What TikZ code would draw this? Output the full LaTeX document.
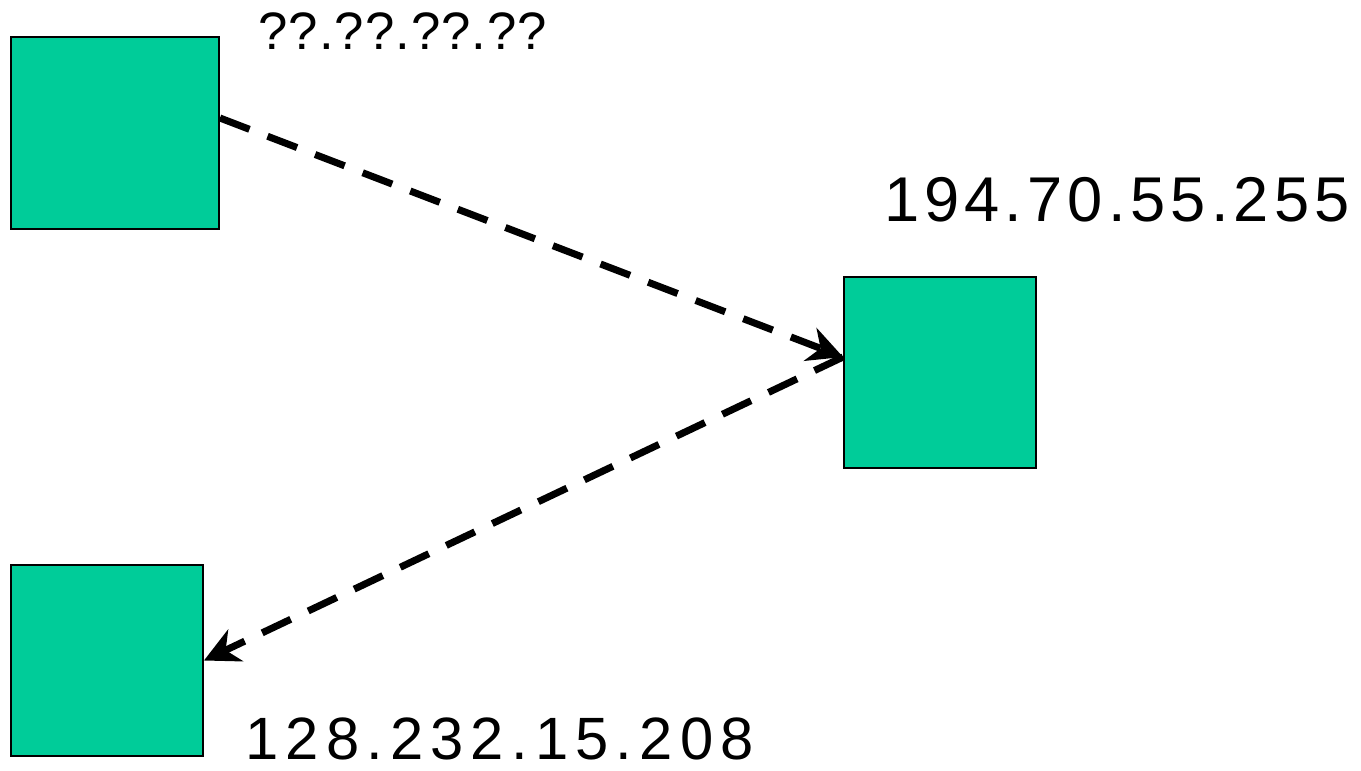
\documentclass[tikz,border=0pt]{standalone}
\usepackage{fontspec}
\setmainfont{Liberation Sans}
\newfontfamily\ipfont[LetterSpace=8]{Liberation Sans}
\newfontfamily\ipwidefont[LetterSpace=12]{Liberation Sans}
\newfontfamily\unkfont[LetterSpace=2]{Liberation Sans}
\usepackage{tikz}
\usetikzlibrary{positioning, arrows.meta}

\definecolor{hostgreen}{RGB}{0,204,153}

\begin{document}
\begin{tikzpicture}[
    x=0.02cm, y=-0.02cm,
    host/.style={
        rectangle, draw=black, line width=1.1pt,
        fill=hostgreen,
        minimum width=3.84cm, minimum height=3.82cm,
        inner sep=0pt
    },
    addr/.style={anchor=base west, inner sep=0pt, text depth=0pt},
    link/.style={
        line width=4pt, dash pattern=on 18pt off 11pt,
        -{Stealth[length=0.7cm, width=0.7cm, inset=0.22cm]}
    },
]

\useasboundingbox (0,0) rectangle (1361,770);

% ---------- Hosts ----------
\node[host, minimum width=4.16cm, minimum height=3.84cm] (src) at (115,133) {};
\node[host] (relay) at (940,372.5) {};
\node[host] (dst) at (107,660.5) {};

% ---------- Addresses ----------
\node[addr, font=\unkfont\fontsize{30}{33}\selectfont] (srcaddr) at (258,50) {??.??.??.??};
\node[addr, font=\ipfont\fontsize{36}{40}\selectfont] (relayaddr) at (884,221) {194.70.55.255};
\node[addr, font=\ipwidefont\fontsize{34}{38}\selectfont] (dstaddr) at (245,759) {128.232.15.208};

% ---------- Links ----------
\draw[link] ([yshift=0.3cm]src.east) -- ([yshift=0.31cm]relay.west);
\draw[link] ([yshift=0.31cm]relay.west) -- (dst.east);

\end{tikzpicture}
\end{document}
